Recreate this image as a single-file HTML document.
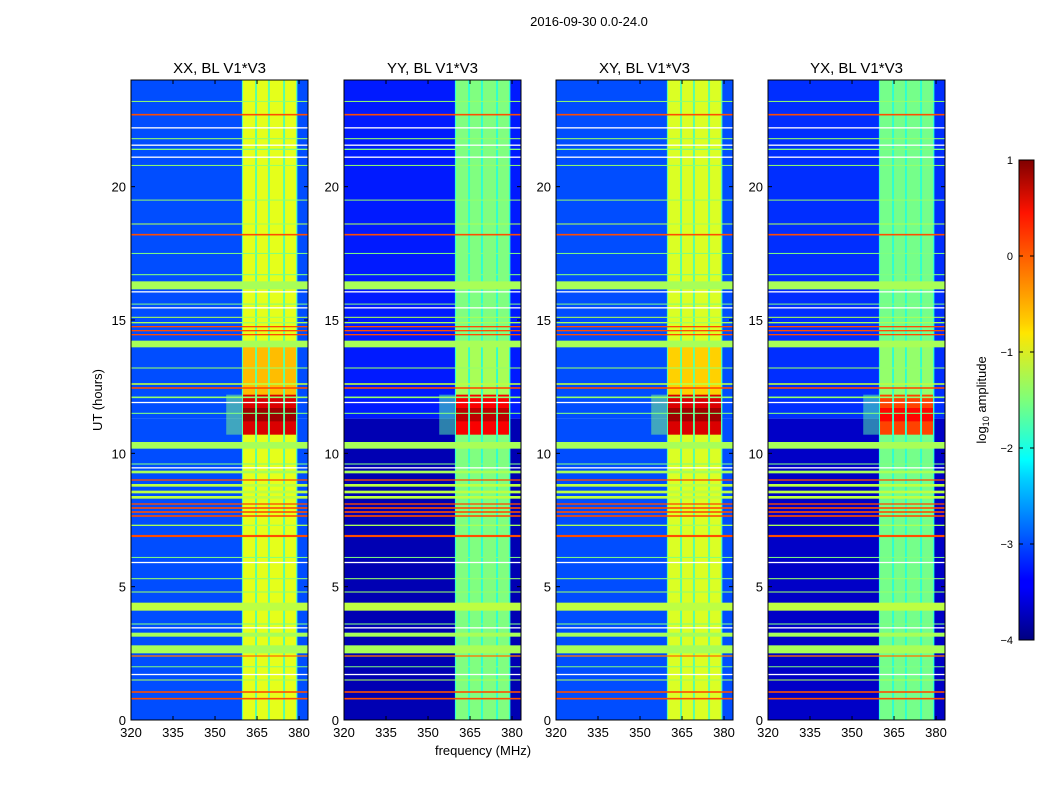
<!DOCTYPE html>
<html><head><meta charset="utf-8"><style>
body{margin:0;background:#fff;font-family:"Liberation Sans",sans-serif}
svg text{font-family:"Liberation Sans",sans-serif}
</style></head><body>
<svg id="fig" width="1050" height="800" xmlns="http://www.w3.org/2000/svg">
<text x="589" y="26" font-size="13" text-anchor="middle">2016-09-30 0.0-24.0</text>
<text transform="translate(102,400) rotate(-90)" font-size="13" text-anchor="middle">UT (hours)</text>
<text x="483" y="755" font-size="13" text-anchor="middle">frequency (MHz)</text>
<defs><linearGradient id="jet" x1="0" y1="1" x2="0" y2="0">
<stop offset="0" stop-color="#000080"/><stop offset="0.11" stop-color="#0000ff"/><stop offset="0.125" stop-color="#0000ff"/><stop offset="0.34" stop-color="#00d4ff"/><stop offset="0.375" stop-color="#00ffff"/><stop offset="0.5" stop-color="#7dff7a"/><stop offset="0.64" stop-color="#ffe600"/><stop offset="0.66" stop-color="#ffd000"/><stop offset="0.89" stop-color="#ff1300"/><stop offset="1" stop-color="#800000"/></linearGradient></defs>
<g>
<rect x="1019" y="160" width="15" height="480" fill="url(#jet)" stroke="#000" stroke-width="1"/>
</g>
<text transform="translate(986,400) rotate(-90)" font-size="13" text-anchor="middle">log<tspan font-size="9" dy="3">10</tspan><tspan dy="-3"> amplitude</tspan></text>
</svg>
<script>
const panelNames=["XX, BL V1*V3","YY, BL V1*V3","XY, BL V1*V3","YX, BL V1*V3"];
const panelLeft=[131,344,556,768];
const bgHigh=[-3.0,-3.25,-3.0,-3.15];
const bgLow=[-3.0,-3.75,-3.0,-3.65];
const bandLevel=[-1.0,-1.5,-1.05,-1.55];
const gapLevel=[-1.7,-1.9,-1.7,-1.9];
const burstLevel=[0.55,0.4,0.55,0.05];
const midLevel=[-0.55,-1.3,-0.65,-1.4];
const bandCols=[[360.0,364.3],[365.0,368.9],[369.6,374.3],[375.0,378.9]];
const lineHours=[0.8,1.05,1.5,2.0,2.4,2.65,3.2,3.6,4.25,4.8,5.3,6.1,6.9,7.3,7.65,7.8,7.95,8.1,8.35,8.55,8.8,9.0,9.3,9.6,10.3,11.5,12.1,12.45,12.6,13.2,14.1,14.45,14.6,14.75,14.9,15.1,15.6,16.3,16.7,17.5,18.2,18.6,19.5,20.8,21.4,21.8,22.7,23.2];
const lineLevels=[0.0,0.0,-1.3,-1.5,-0.2,-1.3,-1.3,-1.5,-1.2,-1.4,-1.4,-1.5,0.0,-1.3,0.0,0.0,0.0,0.0,-1.2,-1.2,-1.2,0.0,-1.3,-1.5,-1.3,-1.5,-1.4,0.0,-1.2,-1.4,-1.3,0.0,0.0,0.0,-1.3,-1.3,-1.5,-1.3,-1.5,-1.5,0.0,-1.3,-1.4,-1.4,-1.5,-1.4,0.0,-1.4];
const lineWidths=[.06,.06,.04,.03,.05,.3,.15,.04,.3,.04,.04,.03,.08,.05,.06,.06,.06,.05,.1,.1,.1,.05,.1,.04,.25,.04,.06,.06,.06,.04,.25,.05,.05,.05,.05,.04,.03,.3,.04,.03,.06,.04,.03,.03,.05,.04,.06,.03];
const gapHours=[1.7,3.45,5.9,9.45,11.9,15.45,16.05,21.1,21.55,22.2];
const xTicks=[320,335,350,365,380];
const yTicks=[0,5,10,15,20];
const cbTicks=[1,0,-1,-2,-3,-4];
const F0=320,F1=383.2,PW=177,TOP=80,BOT=720;
const NS="http://www.w3.org/2000/svg";
const svg=document.getElementById('fig');
function jet(val){let v=(val+4)/5;v=Math.max(0,Math.min(1,v));
 const c=x=>Math.round(255*Math.max(0,Math.min(1,1.5-Math.abs(x))));
 return `rgb(${c(4*v-3)},${c(4*v-2)},${c(4*v-1)})`;}
function mk(tag,attrs,parent){const e=document.createElementNS(NS,tag);for(const k in attrs)e.setAttribute(k,attrs[k]);(parent||svg).appendChild(e);return e;}
function yS(h){return BOT-h*(BOT-TOP)/24;}
panelNames.forEach((name,p)=>{
 const x0=panelLeft[p];const xS=f=>x0+(f-F0)*PW/(F1-F0);
 const g=mk('g',{});
 
 
 const cp='clip'+p;const cl=mk('clipPath',{id:cp},g);mk('rect',{x:x0,y:TOP,width:PW,height:BOT-TOP},cl);
 const d=mk('g',{'clip-path':`url(#${cp})`},g);
 let r=mk('rect',{x:x0,y:yS(24),width:PW,height:yS(11.3)-yS(24),fill:jet(bgHigh[p])},d);
 
 
 r=mk('rect',{x:x0,y:yS(11.3),width:PW,height:yS(0)-yS(11.3),fill:jet(bgLow[p])},d);
 
 
 r=mk('rect',{x:xS(359.6),y:TOP,width:xS(379.4)-xS(359.6),height:BOT-TOP,fill:jet(gapLevel[p])},d);
 
 
 bandCols.forEach((b,i)=>{
  r=mk('rect',{x:xS(b[0]),y:TOP,width:xS(b[1])-xS(b[0]),height:BOT-TOP,fill:jet(bandLevel[p])},d);
  
  
  r=mk('rect',{x:xS(b[0]),y:yS(14),width:xS(b[1])-xS(b[0]),height:yS(12.2)-yS(14),fill:jet(midLevel[p])},d);
  
  
  r=mk('rect',{x:xS(b[0]),y:yS(12.2),width:xS(b[1])-xS(b[0]),height:yS(10.7)-yS(12.2),fill:jet(burstLevel[p])},d);
  
  
  r=mk('rect',{x:xS(b[0]),y:yS(11.7),width:xS(b[1])-xS(b[0]),height:yS(11.2)-yS(11.7),fill:jet(burstLevel[p]+0.3)},d);
  
  
 });
 r=mk('rect',{x:xS(354),y:yS(12.2),width:xS(359.6)-xS(354),height:yS(10.7)-yS(12.2),fill:jet(gapLevel[p]+0.2),opacity:0.5},d);
 
 
 lineHours.forEach((h,i)=>{
  const w=lineWidths[i];
  const ln=mk('rect',{x:x0,y:yS(h+w/2),width:PW,height:Math.max(1,yS(h-w/2)-yS(h+w/2)),fill:jet(lineLevels[i])},d);
  
  
 });
 gapHours.forEach(h=>{
  const ln=mk('rect',{x:x0,y:yS(h+0.03),width:PW,height:1.3,fill:'#fff'},d);
  
  
 });
 mk('rect',{x:x0,y:TOP,width:PW,height:BOT-TOP,fill:'none',stroke:'#000','stroke-width':1},g);
 const t=mk('text',{x:x0+PW/2,y:73,'font-size':15,'text-anchor':'middle'},g);t.textContent=name;
 
 
 xTicks.forEach(f=>{const x=xS(f);
  mk('line',{x1:x,x2:x,y1:BOT,y2:BOT-4,stroke:'#000'},g);mk('line',{x1:x,x2:x,y1:TOP,y2:TOP+4,stroke:'#000'},g);
  const tl=mk('text',{x:x,y:BOT+17,'font-size':13,'text-anchor':'middle'},g);tl.textContent=f;
  
  });
 yTicks.forEach(h=>{const y=yS(h);
  mk('line',{x1:x0,x2:x0+4,y1:y,y2:y,stroke:'#000'},g);mk('line',{x1:x0+PW,x2:x0+PW-4,y1:y,y2:y,stroke:'#000'},g);
  const tl=mk('text',{x:x0-5,y:y+5,'font-size':13,'text-anchor':'end'},g);tl.textContent=h;
  
  });
});
cbTicks.forEach(v=>{const y=160+(1-v)*96;
 mk('line',{x1:1019,x2:1023,y1:y,y2:y,stroke:'#000'});mk('line',{x1:1034,x2:1030,y1:y,y2:y,stroke:'#000'});
 const tl=mk('text',{x:1013,y:y+4,'font-size':11,'text-anchor':'end'});tl.textContent=v<0?'\u2212'+(-v):v;
 
 });
</script>
</body></html>
